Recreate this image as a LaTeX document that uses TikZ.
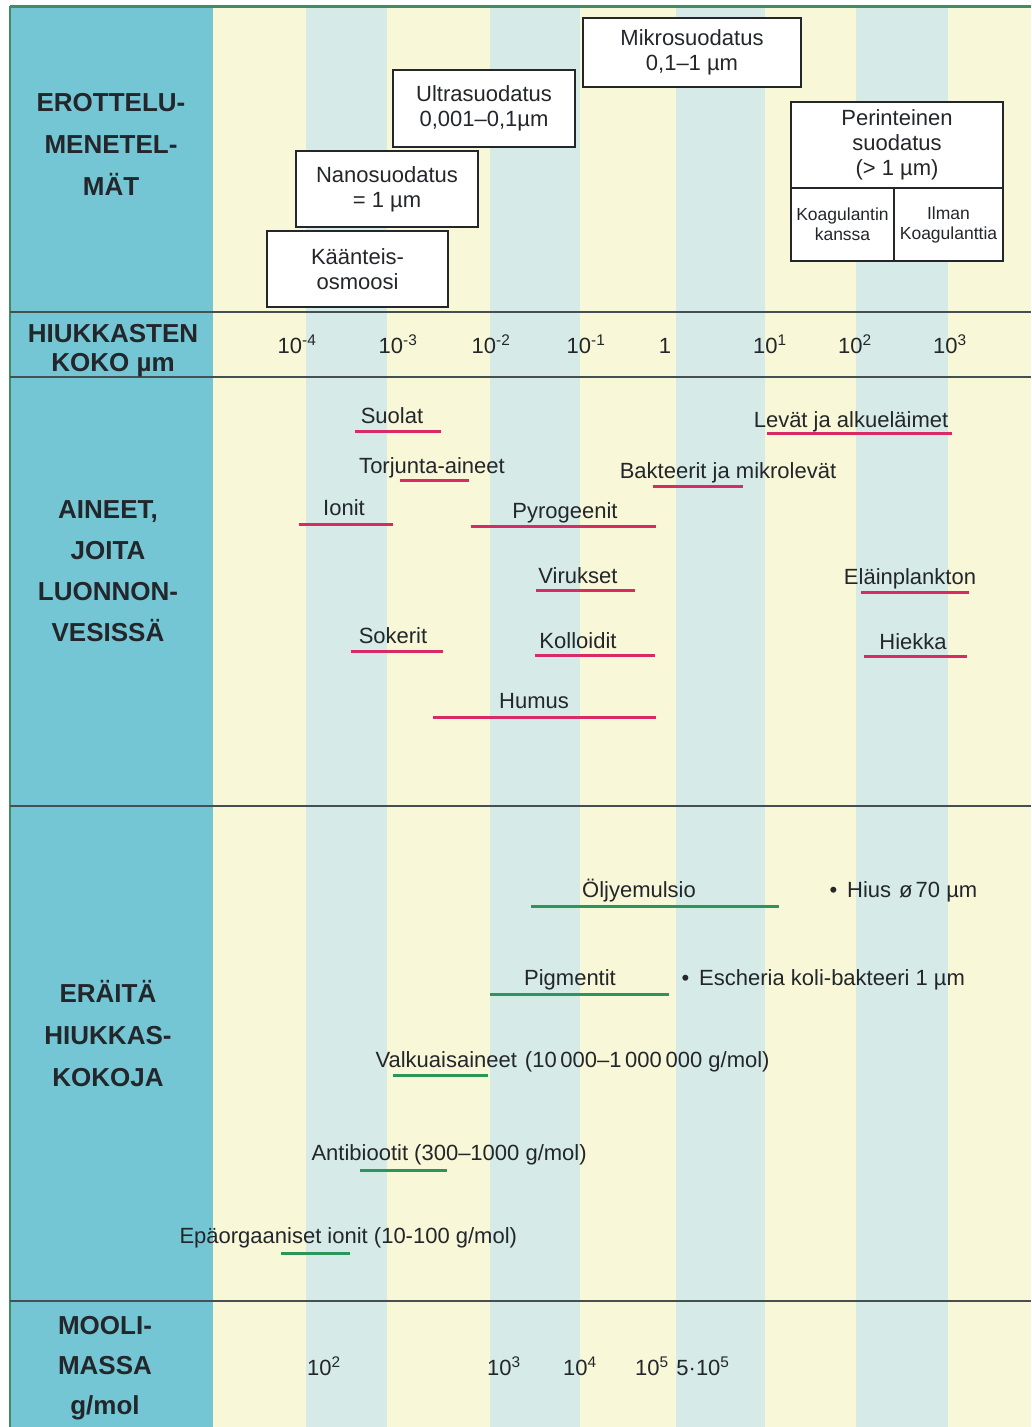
\documentclass[tikz,border=0pt]{standalone}
\usepackage{fontspec}
\setmainfont{Liberation Sans}
\usepackage{xcolor}
\usepackage{tikz}
\definecolor{sidebar}{RGB}{116,198,212}
\definecolor{paleyellow}{RGB}{248,247,216}
\definecolor{paleblue}{RGB}{214,235,231}
\definecolor{rule}{RGB}{70,80,82}
\definecolor{frame}{RGB}{62,142,98}
\definecolor{redbar}{RGB}{216,42,100}
\definecolor{greenbar}{RGB}{42,150,92}
\definecolor{ink}{RGB}{35,38,42}

\begin{document}
\begin{tikzpicture}[x=1pt, y=-1pt,
  heading/.style={font=\bfseries\fontsize{26}{42}\selectfont, align=center, text=ink},
  filterbox/.style={draw=ink, line width=1.6pt, fill=white, align=center, inner sep=0pt, text=ink, font=\fontsize{22}{25}\selectfont},
  axistext/.style={font=\fontsize{22}{26}\selectfont, text=ink, anchor=base},
  itemtext/.style={font=\fontsize{22}{26}\selectfont, text=ink, anchor=base},
  redline/.style={redbar, line width=3pt},
  greenline/.style={greenbar, line width=3pt}]
\useasboundingbox (0,0) rectangle (1031,1427);
\fill[white] (0,0) rectangle (1031,1427);
\fill[sidebar] (10,6) rectangle (213,1427);
\foreach \a/\b/\c in {213/306/paleyellow, 306/387/paleblue, 387/490/paleyellow,
    490/580/paleblue, 580/676/paleyellow, 676/765/paleblue, 765/856/paleyellow,
    856/948/paleblue, 948/1031/paleyellow}
  \fill[\c] (\a,6) rectangle (\b,1427);
\draw[frame, line width=3pt] (10,6) -- (1031,6);
\draw[frame, line width=1.5pt] (10,6) -- (10,1427);
\foreach \y in {312,377,806,1301}
  \draw[rule, line width=1.8pt] (10,\y) -- (1031,\y);

% row headings
\node[heading] (menetelmat) at (111,144) {EROTTELU-\\MENETEL-\\MÄT};
\node[heading, font=\bfseries\fontsize{26}{29}\selectfont] (koko) at (113,351) {HIUKKASTEN\\KOKO µm};
\node[heading, font=\bfseries\fontsize{26}{41}\selectfont] (aineet) at (108,571) {AINEET,\\JOITA\\LUONNON-\\VESISSÄ};
\node[heading] (kokoja) at (108,1034) {ERÄITÄ\\HIUKKAS-\\KOKOJA};
\node[heading, font=\bfseries\fontsize{26}{40}\selectfont] (moolimassa) at (105,1368) {MOOLI-\\MASSA\\g/mol};

% filtration methods
\node[filterbox, minimum width=181pt, minimum height=76pt] (kaanteis) at (357.5,269) {Käänteis-\\osmoosi};
\node[filterbox, minimum width=182pt, minimum height=76pt] (nano) at (387,189) {Nanosuodatus\\= 1 µm};
\node[filterbox, minimum width=182pt, minimum height=77pt] (ultra) at (484,108.5) {Ultrasuodatus\\0,001–0,1µm};
\node[filterbox, minimum width=218pt, minimum height=69pt] (mikro) at (692,52.5) {Mikrosuodatus\\0,1–1 µm};
\node[filterbox, minimum width=212pt, minimum height=86pt] (perint) at (897,145) {Perinteinen\\suodatus\\(> 1 µm)};
\begin{scope}[every node/.style={filterbox, minimum height=73pt, font=\fontsize{17.5}{20}\selectfont}]
  \node[minimum width=103pt] (koag) at (842.5,224.5) {Koagulantin\\kanssa};
  \node[minimum width=109pt] (ilman) at (948.5,224.5) {Ilman\\Koagulanttia};
\end{scope}

% particle size axis
\foreach \x/\t [count=\i] in {297/10\textsuperscript{-4}, 398/10\textsuperscript{-3},
    491/10\textsuperscript{-2}, 586/10\textsuperscript{-1}, 665/1, 770/10\textsuperscript{1},
    855/10\textsuperscript{2}, 950/10\textsuperscript{3}}
  \node[axistext] (size\i) at (\x,353) {\t};

% substances in natural waters
\node[itemtext] (suolat) at (392,423) {Suolat};
\draw[redline] (355,431) -- (441,431);
\node[itemtext] (levat) at (851,427) {Levät ja alkueläimet};
\draw[redline] (767,433) -- (952,433);
\node[itemtext] (torjunta) at (432,473) {Torjunta-aineet};
\draw[redline] (400,480) -- (469,480);
\node[itemtext] (bakteerit) at (728,478) {Bakteerit ja mikrolevät};
\draw[redline] (653,486) -- (743,486);
\node[itemtext] (ionit) at (344,515) {Ionit};
\draw[redline] (299,524) -- (393,524);
\node[itemtext] (pyrogeenit) at (565,518) {Pyrogeenit};
\draw[redline] (471,526) -- (656,526);
\node[itemtext] (virukset) at (578,583) {Virukset};
\draw[redline] (536,590) -- (635,590);
\node[itemtext] (elainplankton) at (910,584) {Eläinplankton};
\draw[redline] (861,592) -- (969,592);
\node[itemtext] (sokerit) at (393,643) {Sokerit};
\draw[redline] (351,651) -- (443,651);
\node[itemtext] (kolloidit) at (578,648) {Kolloidit};
\draw[redline] (535,655) -- (655,655);
\node[itemtext] (hiekka) at (913,649) {Hiekka};
\draw[redline] (864,656) -- (967,656);
\node[itemtext] (humus) at (534,708) {Humus};
\draw[redline] (433,717) -- (656,717);

% some particle sizes
\node[itemtext] (oljy) at (639,897) {Öljyemulsio};
\draw[greenline] (531,906) -- (779,906);
\node[itemtext, anchor=base west] (hius) at (826,897) {•\hspace{10pt}Hius\hspace{8pt}ø\hspace{3pt}70 µm};
\node[itemtext] (pigmentit) at (570,985) {Pigmentit};
\draw[greenline] (490,994) -- (669,994);
\node[itemtext, anchor=base west] (escheria) at (678,985) {•\hspace{10pt}Escheria koli-bakteeri 1 µm};
\node[itemtext, anchor=base west] (valkuais) at (372,1067) {Valkuaisaineet\hspace{8pt}(10\,000–1\,000\,000 g/mol)};
\draw[greenline] (393,1075) -- (488,1075);
\node[itemtext, anchor=base west] (antibiootit) at (308,1160) {Antibiootit (300–1000 g/mol)};
\draw[greenline] (360,1170) -- (447,1170);
\node[itemtext, anchor=base west] (epaorg) at (176,1243) {Epäorgaaniset ionit (10-100 g/mol)};
\draw[greenline] (281,1253) -- (350,1253);

% molar mass axis
\foreach \x/\t [count=\i] in {324/10\textsuperscript{2}, 504/10\textsuperscript{3},
    580/10\textsuperscript{4}, 652/10\textsuperscript{5}, 703/5·10\textsuperscript{5}}
  \node[axistext] (massa\i) at (\x,1375) {\t};
\end{tikzpicture}
\end{document}
